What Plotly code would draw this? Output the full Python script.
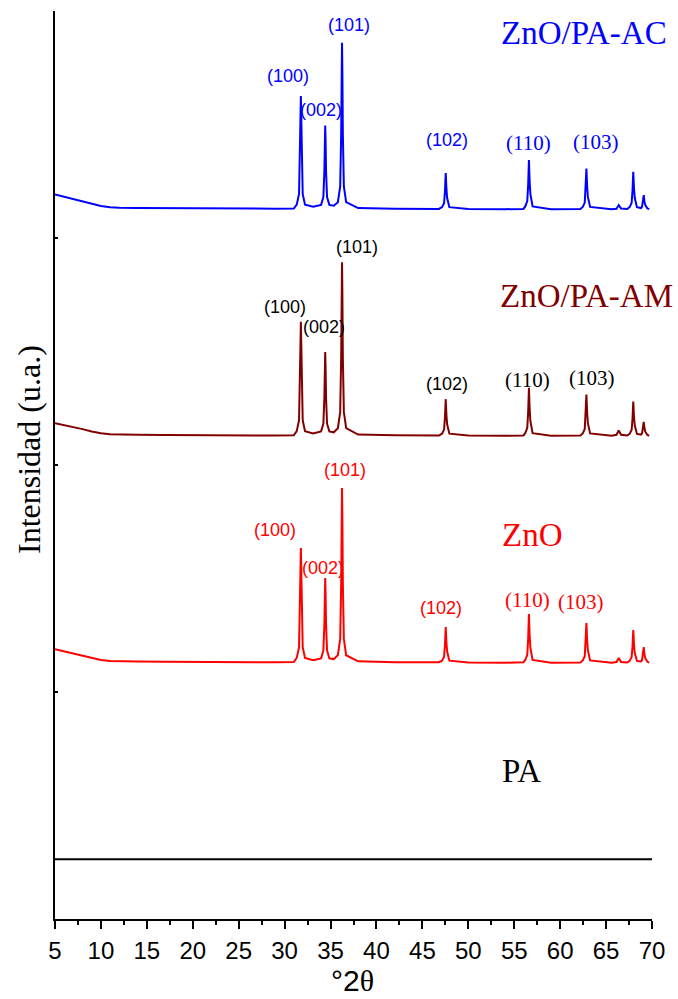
import plotly.graph_objects as go

# Diffraction angle grid shared by the three ZnO patterns (degrees 2-theta)
two_theta = [
    5, 6, 7, 8, 9, 10, 11, 12, 14, 17, 20, 25, 29, 31.0,
    31.32, 31.57, 31.68, 31.73, 31.77, 31.81, 31.86, 31.97, 32.22,
    33.1,
    33.97, 34.22, 34.33, 34.38, 34.42, 34.46, 34.51, 34.62, 34.87,
    35.35,
    35.8, 36.05, 36.16, 36.21, 36.25, 36.29, 36.34, 36.45, 36.7,
    38, 42, 46.8,
    47.14, 47.36, 47.46, 47.54, 47.62, 47.7, 47.94,
    50, 54, 56.0,
    56.2, 56.42, 56.52, 56.6, 56.68, 56.76, 57.0,
    59, 62.2,
    62.46, 62.68, 62.78, 62.86, 62.94, 63.02, 63.26,
    65.6,
    66.13, 66.38, 66.63,
    67.3,
    67.56, 67.78, 67.88, 67.96, 68.04, 68.12, 68.36,
    68.6,
    68.8, 68.92, 69.02, 69.1, 69.18, 69.26, 69.5,
    69.7,
]

# Intensities (a.u.) of each pattern on the grid above
zno = [
    0.188, 0.179, 0.170, 0.160, 0.150, 0.141, 0.137, 0.135, 0.134, 0.133, 0.132, 0.131, 0.131, 0.132,
    0.150, 0.197, 0.358, 0.544, 0.634, 0.544, 0.358, 0.197, 0.150,
    0.140,
    0.148, 0.183, 0.300, 0.436, 0.502, 0.436, 0.300, 0.183, 0.148,
    0.145,
    0.162, 0.234, 0.479, 0.761, 0.899, 0.761, 0.479, 0.234, 0.162,
    0.135, 0.131, 0.131,
    0.138, 0.155, 0.208, 0.286, 0.216, 0.177, 0.138,
    0.130, 0.129, 0.131,
    0.141, 0.164, 0.237, 0.344, 0.248, 0.194, 0.141,
    0.129, 0.130,
    0.139, 0.158, 0.218, 0.304, 0.226, 0.183, 0.139,
    0.129,
    0.132, 0.150, 0.132,
    0.130,
    0.137, 0.153, 0.202, 0.273, 0.209, 0.173, 0.137,
    0.136,
    0.135, 0.141, 0.164, 0.198, 0.167, 0.150, 0.133,
    0.129,
]

zno_pa_am = [
    0.184, 0.176, 0.167, 0.158, 0.148, 0.140, 0.136, 0.134, 0.133, 0.132, 0.131, 0.131, 0.130, 0.131,
    0.149, 0.197, 0.356, 0.541, 0.631, 0.541, 0.356, 0.197, 0.149,
    0.139,
    0.148, 0.182, 0.298, 0.433, 0.498, 0.433, 0.298, 0.182, 0.148,
    0.144,
    0.162, 0.234, 0.476, 0.757, 0.893, 0.757, 0.476, 0.234, 0.162,
    0.134, 0.131, 0.130,
    0.138, 0.156, 0.210, 0.290, 0.218, 0.178, 0.138,
    0.130, 0.129, 0.130,
    0.140, 0.164, 0.235, 0.340, 0.246, 0.193, 0.140,
    0.129, 0.130,
    0.139, 0.159, 0.220, 0.310, 0.229, 0.184, 0.139,
    0.129,
    0.133, 0.152, 0.133,
    0.130,
    0.137, 0.154, 0.205, 0.280, 0.212, 0.175, 0.137,
    0.136,
    0.134, 0.140, 0.160, 0.190, 0.163, 0.148, 0.132,
    0.129,
]

zno_pa_ac = [
    0.192, 0.182, 0.172, 0.161, 0.150, 0.141, 0.136, 0.133, 0.132, 0.131, 0.130, 0.129, 0.129, 0.130,
    0.147, 0.194, 0.353, 0.537, 0.626, 0.537, 0.353, 0.194, 0.147,
    0.138,
    0.146, 0.180, 0.296, 0.431, 0.496, 0.431, 0.296, 0.180, 0.146,
    0.142,
    0.158, 0.227, 0.460, 0.729, 0.860, 0.729, 0.460, 0.227, 0.158,
    0.132, 0.129, 0.128,
    0.136, 0.153, 0.207, 0.286, 0.215, 0.175, 0.136,
    0.128, 0.127, 0.128,
    0.139, 0.163, 0.236, 0.344, 0.247, 0.193, 0.139,
    0.127, 0.128,
    0.137, 0.156, 0.217, 0.306, 0.226, 0.181, 0.137,
    0.127,
    0.129, 0.145, 0.130,
    0.128,
    0.136, 0.154, 0.210, 0.292, 0.218, 0.177, 0.136,
    0.134,
    0.132, 0.138, 0.158, 0.189, 0.161, 0.146, 0.130,
    0.127,
]

# Neat PA pattern: flat, featureless
pa_two_theta = [5, 70]
pa = [0.263, 0.263]

# Vertical stacking offsets of the patterns
offsets = {"PA": 0, "ZnO": 1, "ZnO/PA-AM": 2, "ZnO/PA-AC": 3}

colors = {"PA": "#000000", "ZnO": "#ff0000", "ZnO/PA-AM": "#800000", "ZnO/PA-AC": "#0000ff"}

x_ticks = list(range(5, 71, 5))

fig = go.Figure()

series = [
    ("PA", pa_two_theta, pa),
    ("ZnO", two_theta, zno),
    ("ZnO/PA-AM", two_theta, zno_pa_am),
    ("ZnO/PA-AC", two_theta, zno_pa_ac),
]
for name, xs, ys in series:
    fig.add_trace(go.Scatter(
        x=xs, y=[v + offsets[name] for v in ys], mode="lines", name=name,
        line=dict(color=colors[name], width=2), showlegend=False,
        hoverinfo="skip",
    ))

serif = "Liberation Serif, Times New Roman, serif"
sans = "Liberation Sans, Arial, sans-serif"
narrow = "Liberation Sans Narrow, Arial Narrow, Liberation Sans, sans-serif"

# Pattern names
names = [
    ("ZnO/PA-AC", 62.6, 3.903),
    ("ZnO/PA-AM", 62.9, 2.743),
    ("ZnO", 57.0, 1.691),
    ("PA", 55.8, 0.652),
]
for name, x, y in names:
    fig.add_annotation(x=x, y=y, text=name, showarrow=False,
                       font=dict(family=serif, size=33, color=colors[name]),
                       xanchor="center", yanchor="middle")

# Miller indices of the wurtzite reflections
hkl_labels = {
    "ZnO/PA-AC": [("(100)", 30.37, 3.714, "s"), ("(002)", 33.96, 3.562, "s"),
                  ("(101)", 37.0, 3.938, "s"), ("(102)", 47.73, 3.432, "s"),
                  ("(110)", 56.6, 3.419, "r"), ("(103)", 63.85, 3.423, "r")],
    "ZnO/PA-AM": [("(100)", 30.0, 2.697, "s"), ("(002)", 34.34, 2.609, "s"),
                  ("(101)", 37.9, 2.962, "s"), ("(102)", 47.73, 2.357, "s"),
                  ("(110)", 56.44, 2.374, "r"), ("(103)", 63.47, 2.383, "r")],
    "ZnO": [("(100)", 28.92, 1.714, "s"), ("(002)", 34.23, 1.545, "s"),
            ("(101)", 36.61, 1.978, "s"), ("(102)", 47.05, 1.370, "s"),
            ("(110)", 56.44, 1.405, "r"), ("(103)", 62.32, 1.398, "r")],
}
label_color = {"ZnO/PA-AC": "#0000ff", "ZnO/PA-AM": "#000000", "ZnO": "#ff0000"}
for name, items in hkl_labels.items():
    for text, x, y, kind in items:
        fam, size = (sans, 18) if kind == "s" else (serif, 21)
        fig.add_annotation(x=x, y=y, text=text, showarrow=False,
                           font=dict(family=fam, size=size, color=label_color[name]),
                           xanchor="center", yanchor="middle")

# Axis titles
fig.add_annotation(xref="paper", yref="paper", x=0, y=0.5165, xshift=-26,
                   text="Intensidad (u.a.)", textangle=-90, showarrow=False,
                   font=dict(family=serif, size=32, color="#000000"),
                   xanchor="center", yanchor="middle")
fig.add_annotation(xref="paper", yref="paper", x=0.499, y=0, yshift=-61,
                   text="°2<span style='font-family:Liberation Serif'>θ</span>",
                   showarrow=False,
                   font=dict(family=narrow, size=30, color="#000000"),
                   xanchor="center", yanchor="middle")

fig.update_layout(
    width=678, height=999,
    margin=dict(l=55, r=26, t=11, b=80),
    paper_bgcolor="white", plot_bgcolor="white",
    xaxis=dict(
        range=[5, 70], tickvals=x_ticks, ticktext=[str(t) for t in x_ticks],
        showline=True, linecolor="#000000", linewidth=2,
        ticks="outside", ticklen=8, tickwidth=2, tickcolor="#000000",
        minor=dict(dtick=2.5, tick0=5, ticks="outside", ticklen=4, tickwidth=1.5, tickcolor="#000000"),
        tickfont=dict(family=narrow, size=24, color="#000000"),
        showgrid=False, zeroline=False, ticklabelstandoff=1,
    ),
    yaxis=dict(
        range=[0, 4], tickvals=[1, 2, 3], showticklabels=False,
        showline=True, linecolor="#000000", linewidth=2,
        ticks="inside", ticklen=3, tickwidth=1.5, tickcolor="#000000",
        showgrid=False, zeroline=False,
    ),
)

fig.write_html("out.html")
